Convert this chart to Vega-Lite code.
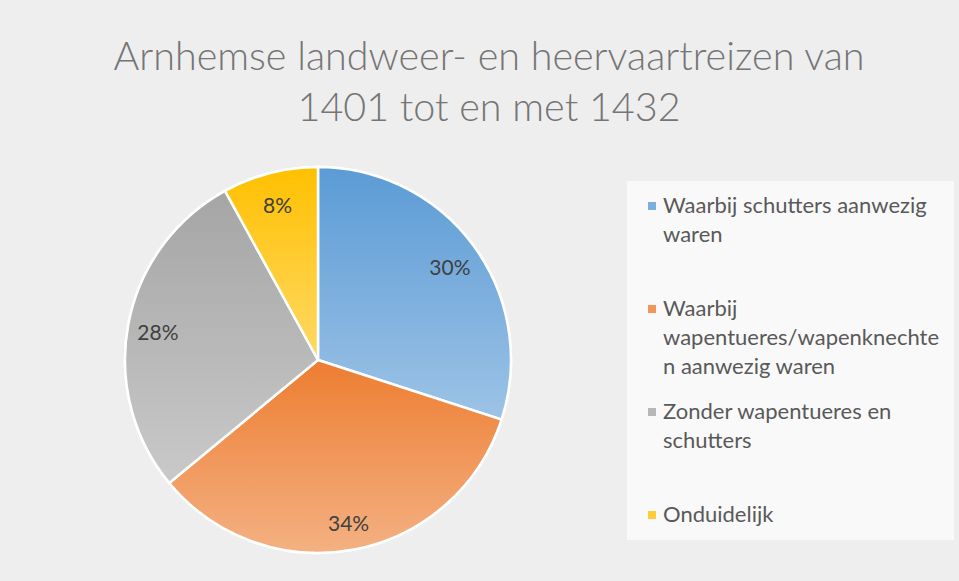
{
  "$schema": "https://vega.github.io/schema/vega-lite/v6.json",
  "width": 386,
  "height": 386,
  "autosize": "none",
  "padding": {"left": 125, "top": 167, "right": 448, "bottom": 28},
  "background": "#eeeeee",
  "config": {"view": {"stroke": null}, "style": {"guide-label": {"lineHeight": 29}}},
  "title": {
    "text": ["Arnhemse landweer- en heervaartreizen van", "1401 tot en met 1432"],
    "font": "Lato",
    "fontSize": 39.5,
    "fontWeight": 300,
    "color": "#757575",
    "lineHeight": 51,
    "anchor": "middle",
    "dx": 171,
    "offset": 33
  },
  "data": {
    "values": [
      {"category": "Waarbij schutters aanwezig waren", "value": 0.30},
      {"category": "Waarbij wapentueres/wapenknechten aanwezig waren", "value": 0.34},
      {"category": "Zonder wapentueres en schutters", "value": 0.28},
      {"category": "Onduidelijk", "value": 0.08}
    ]
  },
  "transform": [
    {"window": [{"op": "row_number", "as": "rank"}]},
    {"stack": "value", "groupby": [], "sort": [{"field": "rank", "order": "ascending"}], "as": ["v0", "v1"]}
  ],
  "layer": [
    {
      "mark": {"type": "arc", "outerRadius": 193, "stroke": "white", "strokeWidth": 2.5},
      "encoding": {
        "theta": {"field": "v0", "type": "quantitative", "scale": {"domain": [0, 1]}},
        "theta2": {"field": "v1"},
        "color": {
          "field": "category",
          "type": "nominal",
          "sort": null,
          "scale": {"range": ["#7cafdd", "#f09757", "#b7b7b7", "#ffcc33"]},
          "legend": {
            "orient": "none",
            "legendX": 502,
            "legendY": 14,
            "title": null,
            "fillColor": "#f9f9f9",
            "padding": 14,
            "symbolType": "square",
            "symbolSize": 64,
            "symbolStrokeWidth": 0,
            "labelFont": "Lato",
            "labelFontSize": 22,
            "labelColor": "#595959",
            "labelBaseline": "middle",
            "labelLimit": 400,
            "labelOffset": 0,
            "gridAlign": "all",
            "rowPadding": 23,
            "labelExpr": "datum.label == 'Waarbij schutters aanwezig waren' ? ['Waarbij schutters aanwezig', 'waren'] : datum.label == 'Waarbij wapentueres/wapenknechten aanwezig waren' ? ['Waarbij', 'wapentueres/wapenknechte', 'n aanwezig waren'] : datum.label == 'Zonder wapentueres en schutters' ? ['Zonder wapentueres en', 'schutters'] : datum.label"
          }
        }
      }
    },
    {
      "transform": [{"filter": "datum.category == 'Waarbij schutters aanwezig waren'"}],
      "mark": {"type": "arc", "outerRadius": 193, "stroke": "white", "strokeWidth": 2.5,
        "fill": {"gradient": "linear", "x1": 0, "y1": 0, "x2": 0, "y2": 1, "stops": [{"offset": 0, "color": "#5b9bd5"}, {"offset": 1, "color": "#9dc3e6"}]}},
      "encoding": {
        "theta": {"field": "v0", "type": "quantitative", "scale": {"domain": [0, 1]}},
        "theta2": {"field": "v1"}
      }
    },
    {
      "transform": [{"filter": "datum.category == 'Waarbij wapentueres/wapenknechten aanwezig waren'"}],
      "mark": {"type": "arc", "outerRadius": 193, "stroke": "white", "strokeWidth": 2.5,
        "fill": {"gradient": "linear", "x1": 0, "y1": 0, "x2": 0, "y2": 1, "stops": [{"offset": 0, "color": "#ed7d31"}, {"offset": 1, "color": "#f4b183"}]}},
      "encoding": {
        "theta": {"field": "v0", "type": "quantitative", "scale": {"domain": [0, 1]}},
        "theta2": {"field": "v1"}
      }
    },
    {
      "transform": [{"filter": "datum.category == 'Zonder wapentueres en schutters'"}],
      "mark": {"type": "arc", "outerRadius": 193, "stroke": "white", "strokeWidth": 2.5,
        "fill": {"gradient": "linear", "x1": 0, "y1": 0, "x2": 0, "y2": 1, "stops": [{"offset": 0, "color": "#a5a5a5"}, {"offset": 1, "color": "#c9c9c9"}]}},
      "encoding": {
        "theta": {"field": "v0", "type": "quantitative", "scale": {"domain": [0, 1]}},
        "theta2": {"field": "v1"}
      }
    },
    {
      "transform": [{"filter": "datum.category == 'Onduidelijk'"}],
      "mark": {"type": "arc", "outerRadius": 193, "stroke": "white", "strokeWidth": 2.5,
        "fill": {"gradient": "linear", "x1": 0, "y1": 0, "x2": 0, "y2": 1, "stops": [{"offset": 0, "color": "#ffc000"}, {"offset": 1, "color": "#ffd966"}]}},
      "encoding": {
        "theta": {"field": "v0", "type": "quantitative", "scale": {"domain": [0, 1]}},
        "theta2": {"field": "v1"}
      }
    },
    {
      "mark": {"type": "text", "radius": 163, "dy": 5, "font": "Lato", "fontSize": 21, "color": "#404040"},
      "encoding": {
        "theta": {"field": "value", "type": "quantitative", "stack": true, "scale": {"domain": [0, 1]}},
        "order": {"field": "rank", "type": "quantitative"},
        "text": {"field": "value", "type": "quantitative", "format": ".0%"}
      }
    }
  ]
}
